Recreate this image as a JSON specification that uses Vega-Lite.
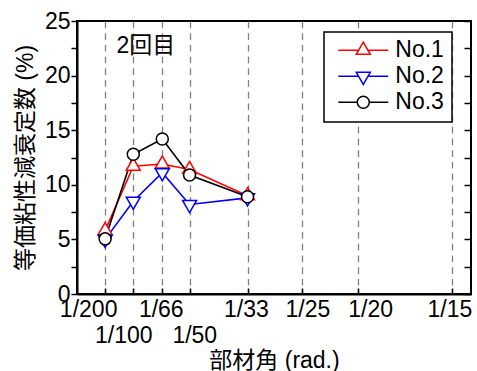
{
  "$schema": "https://vega.github.io/schema/vega-lite/v6.json",
  "width": 394,
  "height": 273,
  "autosize": {"type": "none"},
  "padding": {"left": 77, "top": 21, "right": 6, "bottom": 77},
  "config": {
    "font": "Liberation Sans, Noto Sans CJK JP",
    "view": {"stroke": "black", "strokeWidth": 2},
    "axis": {
      "labelFont": "Liberation Sans, Noto Sans CJK JP",
      "labelFontSize": 23,
      "labelColor": "black",
      "titleFont": "Liberation Sans, Noto Sans CJK JP",
      "titleFontSize": 23,
      "titleFontWeight": "normal",
      "titleColor": "black",
      "domainColor": "black",
      "domainWidth": 2,
      "tickColor": "black",
      "tickWidth": 1.5
    },
    "legend": {
      "title": null,
      "orient": "none",
      "legendX": 247,
      "legendY": 11,
      "padding": 7.3,
      "strokeColor": "black",
      "fillColor": "white",
      "cornerRadius": 0,
      "labelFont": "Liberation Sans, Noto Sans CJK JP",
      "labelFontSize": 23,
      "labelColor": "black",
      "symbolSize": 2500,
      "symbolStrokeWidth": 1.5,
      "symbolOffset": 6,
      "labelOffset": 6,
      "clipHeight": 22,
      "rowPadding": 3
    }
  },
  "data": {
    "values": [
      {"s": "No.1", "x": 0.005, "y": 5.8},
      {"s": "No.1", "x": 0.01, "y": 11.7},
      {"s": "No.1", "x": 0.01515, "y": 11.9},
      {"s": "No.1", "x": 0.02, "y": 11.4},
      {"s": "No.1", "x": 0.0303, "y": 9.0},
      {"s": "No.2", "x": 0.005, "y": 5.0},
      {"s": "No.2", "x": 0.01, "y": 8.5},
      {"s": "No.2", "x": 0.01515, "y": 11.1},
      {"s": "No.2", "x": 0.02, "y": 8.2},
      {"s": "No.2", "x": 0.0303, "y": 8.8},
      {"s": "No.3", "x": 0.005, "y": 5.05},
      {"s": "No.3", "x": 0.01, "y": 12.8},
      {"s": "No.3", "x": 0.01515, "y": 14.2},
      {"s": "No.3", "x": 0.02, "y": 10.9},
      {"s": "No.3", "x": 0.0303, "y": 8.9}
    ]
  },
  "encoding": {
    "x": {
      "field": "x",
      "type": "quantitative",
      "scale": {"domain": [0, 0.07], "nice": false, "zero": false},
      "axis": {
        "values": [0.005, 0.01, 0.01515, 0.02, 0.0303, 0.04, 0.05, 0.06667],
        "labelExpr": "datum.value < 0.007 ? '1/200' : datum.value < 0.012 ? '1/100' : datum.value < 0.017 ? '1/66' : datum.value < 0.025 ? '1/50' : datum.value < 0.035 ? '1/33' : datum.value < 0.045 ? '1/25' : datum.value < 0.055 ? '1/20' : '1/15'",
        "labelOffset": {"expr": "datum.value < 0.007 ? -17 : datum.value < 0.012 ? -10 : datum.value < 0.017 ? -1.5 : datum.value < 0.025 ? 4.7 : datum.value < 0.035 ? -1.7 : datum.value < 0.045 ? 5.2 : datum.value < 0.055 ? 11.7 : -2.8"},
        "labelPadding": {"expr": "(datum.value > 0.007 && datum.value < 0.012) || (datum.value > 0.017 && datum.value < 0.025) ? 36 : 10.5"},
        "labelBaseline": "top",
        "labelOverlap": false,
        "labelFlush": false,
        "grid": true,
        "gridDash": [6.7, 5],
        "gridColor": "#808080",
        "gridWidth": 1.3,
        "tickSize": -6,
        "title": "部材角 (rad.)",
        "titleX": 197,
        "titleY": 66,
        "titleBaseline": "middle"
      }
    }
  },
  "layer": [
    {
      "mark": {"type": "line", "strokeWidth": 1.6},
      "encoding": {
        "y": {
          "field": "y",
          "type": "quantitative",
          "scale": {"domain": [0, 25], "nice": false, "zero": false},
          "axis": {
            "values": [0, 2.5, 5, 7.5, 10, 12.5, 15, 17.5, 20, 22.5, 25],
            "labelExpr": "datum.value % 5 === 0 ? datum.label : ''",
            "labelOverlap": false,
            "labelFlush": false,
            "tickSize": 6,
            "labelPadding": 1,
            "grid": false,
            "title": "等価粘性減衰定数 (%)",
            "titleX": -52,
            "titleY": 136.5,
            "titleBaseline": "middle"
          }
        },
        "stroke": {
          "field": "s",
          "type": "nominal",
          "scale": {"domain": ["No.1", "No.2", "No.3"], "range": ["#ff0000", "#0000ff", "#000000"]},
          "legend": {
            "symbolType": "circle",
            "encode": {
              "symbols": {
                "update": {
                  "shape": {"signal": "datum.value === 'No.1' ? 'M-1,0H-0.186M0.186,0H1M0,-0.323L0.28,0.162L-0.28,0.162Z' : datum.value === 'No.2' ? 'M-1,0H-0.186M0.186,0H1M0,0.323L0.28,-0.162L-0.28,-0.162Z' : 'M-1,0H-0.24M0.24,0H1M0.24,0A0.24,0.24,0,1,1,-0.24,0A0.24,0.24,0,1,1,0.24,0Z'"},
                  "fill": {"value": "white"},
                  "size": {"value": 2500},
                  "strokeWidth": {"value": 1.5}
                }
              },
              "legend": {
                "update": {"strokeWidth": {"value": 1.5}}
              }
            }
          }
        }
      }
    },
    {
      "transform": [{"filter": "datum.s === 'No.1'"}],
      "mark": {"type": "point", "shape": "M0,-1.155L1,0.577L-1,0.577Z", "filled": true, "fill": "white", "stroke": "#ff0000", "size": 196, "strokeWidth": 1.5, "opacity": 1},
      "encoding": {
        "y": {"field": "y", "type": "quantitative", "axis": null}
      }
    },
    {
      "transform": [{"filter": "datum.s === 'No.2'"}],
      "mark": {"type": "point", "shape": "M0,1.155L1,-0.577L-1,-0.577Z", "filled": true, "fill": "white", "stroke": "#0000ff", "size": 196, "strokeWidth": 1.5, "opacity": 1},
      "encoding": {
        "y": {"field": "y", "type": "quantitative", "axis": null}
      }
    },
    {
      "transform": [{"filter": "datum.s === 'No.3'"}],
      "mark": {"type": "point", "shape": "M0.857,0A0.857,0.857,0,1,1,-0.857,0A0.857,0.857,0,1,1,0.857,0Z", "filled": true, "fill": "white", "stroke": "#000000", "size": 196, "strokeWidth": 1.5, "opacity": 1},
      "encoding": {
        "y": {"field": "y", "type": "quantitative", "axis": null}
      }
    },
    {
      "data": {"values": [{"x": 0.01224, "y": 22.7, "label": "2回目"}]},
      "mark": {"type": "text", "fontSize": 23, "font": "Liberation Sans, Noto Sans CJK JP", "color": "black", "align": "center", "baseline": "middle"},
      "encoding": {
        "text": {"field": "label"},
        "y": {
          "field": "y",
          "type": "quantitative",
          "axis": {
            "orient": "right",
            "values": [0, 2.5, 5, 7.5, 10, 12.5, 15, 17.5, 20, 22.5, 25],
            "labels": false,
            "tickSize": -7,
            "title": null,
            "grid": false,
            "domain": false
          }
        }
      }
    }
  ],
  "resolve": {"axis": {"y": "independent"}}
}
